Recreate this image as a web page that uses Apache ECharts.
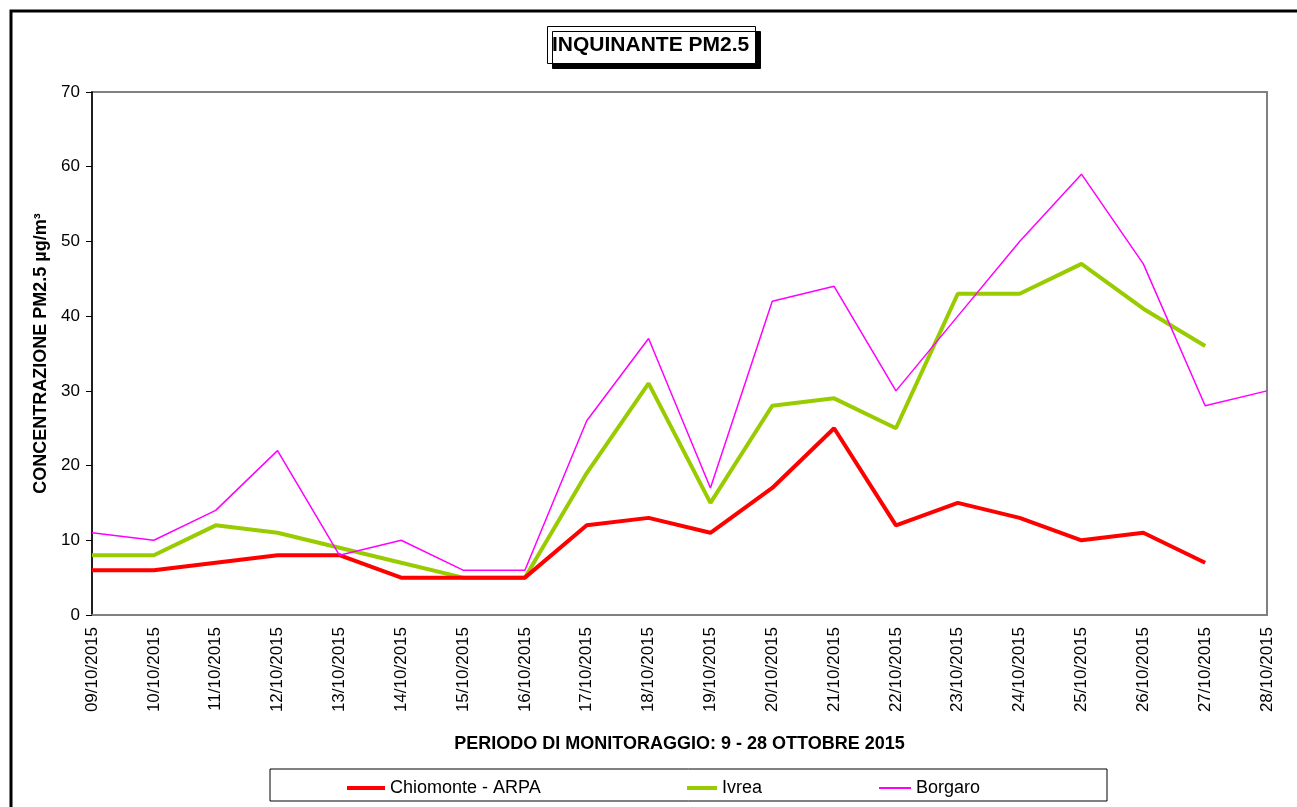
<!DOCTYPE html>
<html>
<head>
<meta charset="utf-8">
<script src="https://cdn.jsdelivr.net/npm/echarts@6/dist/echarts.min.js"></script>
<style>
  html, body { margin: 0; padding: 0; background: #fff; }
  #chart { width: 1297px; height: 807px; }
</style>
</head>
<body>
<div id="chart"></div>
<script>
// giorni di monitoraggio
var days = ['09/10/2015', '10/10/2015', '11/10/2015', '12/10/2015', '13/10/2015',
  '14/10/2015', '15/10/2015', '16/10/2015', '17/10/2015', '18/10/2015',
  '19/10/2015', '20/10/2015', '21/10/2015', '22/10/2015', '23/10/2015',
  '24/10/2015', '25/10/2015', '26/10/2015', '27/10/2015', '28/10/2015'];

var chiomonte = [6, 6, 7, 8, 8, 5, 5, 5, 12, 13, 11, 17, 25, 12, 15, 13, 10, 11, 7, null];
var ivrea = [8, 8, 12, 11, 9, 7, 5, 5, 19, 31, 15, 28, 29, 25, 43, 43, 47, 41, 36, null];
var borgaro = [11, 10, 14, 22, 8, 10, 6, 6, 26, 37, 17, 42, 44, 30, 40, 50, 59, 47, 28, 30];

var font = 'Liberation Sans, Arial, sans-serif';

var chart = echarts.init(document.getElementById('chart'));

function legendFor(name, left, w, h) {
  return {
    data: [name],
    left: left,
    top: 774,
    icon: 'rect',
    itemWidth: w,
    itemHeight: h,
    textStyle: { fontFamily: font, fontSize: 18, color: '#000' },
    selectedMode: false
  };
}

chart.setOption({
  animation: false,
  backgroundColor: '#fff',
  title: {
    text: 'INQUINANTE PM2.5',
    left: 547,
    top: 26,
    padding: [9, 7, 8, 5],
    borderColor: '#000',
    borderWidth: 1,
    backgroundColor: '#fff',
    shadowColor: '#000',
    shadowBlur: 0,
    shadowOffsetX: 5,
    shadowOffsetY: 5,
    textStyle: {
      fontFamily: font,
      fontSize: 21,
      fontWeight: 'bold',
      color: '#000'
    }
  },
  graphic: [
    {
      type: 'rect',
      shape: { x: 11, y: 11, width: 1320, height: 900 },
      style: { fill: 'none', stroke: '#000', lineWidth: 3 },
      silent: true
    },
    {
      type: 'rect',
      shape: { x: 270, y: 769, width: 837, height: 32 },
      style: { fill: '#fff', stroke: '#000', lineWidth: 1 },
      z: -1,
      silent: true
    }
  ],
  legend: [
    legendFor('Chiomonte - ARPA', 342, 38, 4),
    legendFor('Ivrea', 682, 30, 4),
    legendFor('Borgaro', 874, 32, 2)
  ],
  grid: {
    left: 92,
    right: 30,
    top: 92,
    bottom: 192,
    show: true,
    borderColor: '#808080',
    borderWidth: 2
  },
  xAxis: {
    type: 'category',
    data: days,
    boundaryGap: false,
    name: 'PERIODO DI MONITORAGGIO: 9 - 28 OTTOBRE 2015',
    nameLocation: 'middle',
    nameGap: 120,
    nameTextStyle: { fontFamily: font, fontSize: 18, fontWeight: 'bold', color: '#000' },
    axisLine: { lineStyle: { color: '#808080', width: 2 } },
    axisTick: { show: false },
    axisLabel: {
      rotate: 90,
      margin: 12,
      interval: 0,
      fontFamily: font,
      fontSize: 17,
      color: '#000'
    },
    splitLine: { show: false }
  },
  yAxis: {
    type: 'value',
    min: 0,
    max: 70,
    interval: 10,
    name: 'CONCENTRAZIONE PM2.5 µg/m³',
    nameLocation: 'middle',
    nameGap: 42,
    nameTextStyle: { fontFamily: font, fontSize: 18, fontWeight: 'bold', color: '#000' },
    axisLine: { show: true, lineStyle: { color: '#000', width: 1.5 } },
    axisTick: { show: true, inside: false, length: 6, lineStyle: { color: '#000' } },
    axisLabel: { margin: 12, fontFamily: font, fontSize: 17, color: '#000' },
    splitLine: { show: false }
  },
  series: [
    {
      name: 'Chiomonte - ARPA',
      type: 'line',
      data: chiomonte,
      showSymbol: false,
      symbol: 'none',
      lineStyle: { color: '#ff0000', width: 4 },
      itemStyle: { color: '#ff0000' },
      z: 3
    },
    {
      name: 'Ivrea',
      type: 'line',
      data: ivrea,
      showSymbol: false,
      symbol: 'none',
      lineStyle: { color: '#99cc00', width: 4 },
      itemStyle: { color: '#99cc00' },
      z: 2
    },
    {
      name: 'Borgaro',
      type: 'line',
      data: borgaro,
      showSymbol: false,
      symbol: 'none',
      lineStyle: { color: '#ff00ff', width: 1.5 },
      itemStyle: { color: '#ff00ff' },
      z: 4
    }
  ]
});
</script>
</body>
</html>
